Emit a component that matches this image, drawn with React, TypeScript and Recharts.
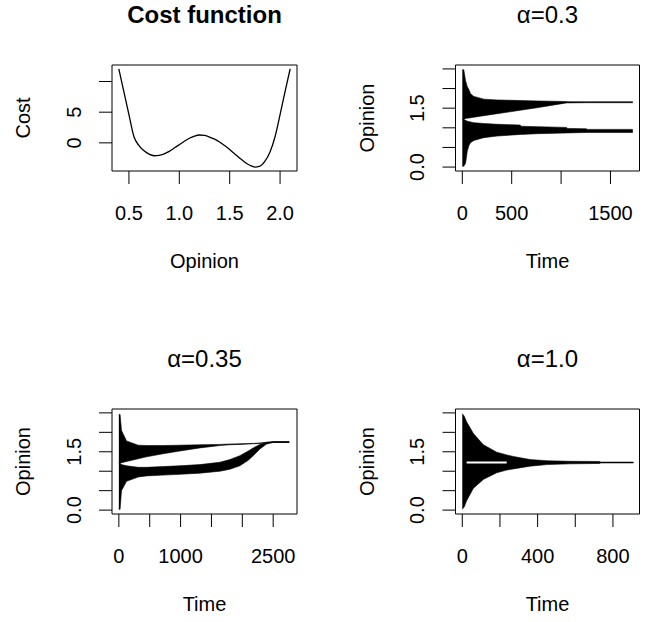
import React from 'react';
import { ComposedChart, Line, Area, XAxis, YAxis, ReferenceArea } from 'recharts';

const FONT = '"Liberation Sans", Arial, Helvetica, sans-serif';

// ---------- Panel 1: Cost function ----------
const costOpinion = [0.40, 0.45, 0.50, 0.55, 0.60, 0.65, 0.70, 0.75, 0.80, 0.85, 0.90, 0.95, 1.00, 1.05, 1.10, 1.15, 1.20, 1.25, 1.30, 1.35, 1.40, 1.45, 1.50, 1.55, 1.60, 1.65, 1.70, 1.75, 1.80, 1.85, 1.90, 1.95, 2.00, 2.05, 2.10];
const costValue = [12.05, 8.3, 4.6, 1.0, -0.45, -1.3, -1.85, -2.1, -2.05, -1.8, -1.4, -0.85, -0.3, 0.25, 0.75, 1.1, 1.28, 1.2, 0.95, 0.6, 0.15, -0.45, -1.1, -1.8, -2.5, -3.15, -3.65, -3.95, -3.8, -3.0, -1.5, 1.0, 4.6, 8.4, 12.05];
const costXTicks = [0.5, 1.0, 1.5, 2.0];
const costXLabels = ['0.5', '1.0', '1.5', '2.0'];
const costYTicks = [0, 5, 10];
const costYLabels = ['0', '5', ''];

// ---------- Shared opinion axis ----------
const opinionTicks = [0, 0.5, 1.0, 1.5, 2.0, 2.5];
const opinionLabels = ['0.0', '', '', '1.5', '', ''];

// ---------- Panel 2: alpha = 0.3 ----------
const a03Time = [0, 15, 33, 50, 67, 83, 117, 218, 352, 519, 587, 590, 754, 1056, 1060, 1258, 1262, 1726];
const a03UpperLow = [1.21, 1.21, 1.24, 1.245, 1.25, 1.255, 1.27, 1.31, 1.36, 1.42, 1.45, 1.45, 1.51, 1.635, 1.635, 1.64, 1.64, 1.64];
const a03UpperHigh = [2.48, 2.48, 2.2, 2.05, 1.97, 1.87, 1.8, 1.73, 1.71, 1.7, 1.695, 1.695, 1.685, 1.67, 1.665, 1.665, 1.665, 1.665];
const a03LowerLow = [0.02, 0.02, 0.1, 0.4, 0.55, 0.62, 0.68, 0.75, 0.79, 0.82, 0.83, 0.83, 0.85, 0.87, 0.87, 0.88, 0.88, 0.88];
const a03LowerHigh = [1.21, 1.21, 1.19, 1.17, 1.16, 1.15, 1.13, 1.11, 1.09, 1.075, 1.07, 1.04, 1.03, 1.01, 0.985, 0.975, 0.96, 0.96];
const a03XTicks = [0, 500, 1000, 1500];
const a03XLabels = ['0', '500', '', '1500'];

// ---------- Panel 3: alpha = 0.35 ----------
const a035Time = [0, 20, 43, 124, 313, 449, 718, 989, 1313, 1637, 1799, 1961, 2096, 2177, 2285, 2394, 2501, 2760];
const a035UpperLow = [1.2, 1.2, 1.22, 1.25, 1.32, 1.37, 1.45, 1.52, 1.6, 1.66, 1.68, 1.69, 1.7, 1.705, 1.715, 1.73, 1.74, 1.74];
const a035UpperHigh = [2.46, 2.46, 2.05, 1.78, 1.67, 1.66, 1.66, 1.67, 1.68, 1.69, 1.7, 1.705, 1.71, 1.715, 1.725, 1.745, 1.76, 1.76];
const a035LowerLow = [0.02, 0.02, 0.5, 0.74, 0.85, 0.88, 0.9, 0.92, 0.95, 1.0, 1.05, 1.14, 1.28, 1.4, 1.57, 1.7, 1.74, 1.74];
const a035LowerHigh = [1.2, 1.2, 1.17, 1.14, 1.1, 1.1, 1.12, 1.14, 1.17, 1.23, 1.3, 1.4, 1.52, 1.6, 1.69, 1.74, 1.76, 1.76];
const a035XTicks = [0, 500, 1000, 1500, 2000, 2500];
const a035XLabels = ['0', '', '1000', '', '', '2500'];

// ---------- Panel 4: alpha = 1.0 ----------
const a10Time = [0, 10, 23, 59, 112, 183, 236, 271, 360, 449, 573, 730, 735, 909];
const a10Low = [0.02, 0.08, 0.24, 0.56, 0.79, 0.96, 1.03, 1.06, 1.13, 1.17, 1.19, 1.2, 1.213, 1.213];
const a10High = [2.48, 2.42, 2.27, 1.97, 1.68, 1.49, 1.42, 1.38, 1.3, 1.27, 1.255, 1.25, 1.235, 1.235];
const a10GapTime = [23, 236];
const a10GapValue = [1.222, 1.222];
const a10XTicks = [0, 200, 400, 600, 800];
const a10XLabels = ['0', '', '400', '', '800'];

const W = 326;
const H = 311;
const YAW = 40;
const XAH = 40;

type Box = { l: number; r: number; t: number; b: number };

type Cfg = {
  left: number;
  top: number;
  box: Box;
  title: string;
  bold?: boolean;
  xLabel: string;
  yLabel: string;
  xKey: string;
  xDomain: [number, number];
  yDomain: [number, number];
  xTicks: number[];
  xLabels: string[];
  yTicks: number[];
  yLabels: string[];
  data: any[];
};

const labelFor = (ticks: number[], labels: string[], v: number) => {
  const i = ticks.findIndex((t) => Math.abs(t - v) < 1e-9);
  return i >= 0 ? labels[i] : '';
};

function renderPanel(cfg: Cfg, series: React.ReactNode[]) {
  const { box } = cfg;
  const margin = { top: box.t, left: box.l - YAW, right: W - box.r, bottom: H - box.b - XAH };
  const cx = (box.l + box.r) / 2;
  const cy = (box.t + box.b) / 2;
  const xTick = (props: any) => {
    const label = labelFor(cfg.xTicks, cfg.xLabels, props.payload.value);
    if (!label) return <g />;
    return (
      <text x={props.x} y={box.b + 48.7} textAnchor="middle" fontSize={20} fontFamily={FONT} fill="#000">
        {label}
      </text>
    );
  };
  const yTick = (props: any) => {
    const label = labelFor(cfg.yTicks, cfg.yLabels, props.payload.value);
    if (!label) return <g />;
    const px = box.l - 31.3;
    return (
      <text x={px} y={props.y} transform={`rotate(-90, ${px}, ${props.y})`} textAnchor="middle" fontSize={20} fontFamily={FONT} fill="#000">
        {label}
      </text>
    );
  };
  const yTitleX = box.l - 82;
  return (
    <div style={{ position: 'absolute', left: cfg.left, top: cfg.top, width: W, height: H }}>
      <ComposedChart width={W} height={H} data={cfg.data} margin={margin}>
        <XAxis
          dataKey={cfg.xKey}
          type="number"
          domain={cfg.xDomain}
          ticks={cfg.xTicks}
          interval={0}
          allowDataOverflow
          height={XAH}
          tickSize={13}
          axisLine={false}
          tickLine={{ stroke: '#000', strokeWidth: 1 }}
          tick={xTick}
        />
        <YAxis
          type="number"
          domain={cfg.yDomain}
          ticks={cfg.yTicks}
          interval={0}
          allowDataOverflow
          width={YAW}
          tickSize={13}
          axisLine={false}
          tickLine={{ stroke: '#000', strokeWidth: 1 }}
          tick={yTick}
        />
        {series}
        <ReferenceArea
          x1={cfg.xDomain[0]}
          x2={cfg.xDomain[1]}
          y1={cfg.yDomain[0]}
          y2={cfg.yDomain[1]}
          fill="none"
          fillOpacity={0}
          stroke="#000"
          strokeWidth={1}
          ifOverflow="visible"
        />
        <text x={cx} y={box.t - 42.5} textAnchor="middle" fontSize={24} fontWeight={cfg.bold ? 'bold' : 'normal'} fontFamily={FONT} fill="#000">
          {cfg.title}
        </text>
        <text x={cx} y={box.b + 96.6} textAnchor="middle" fontSize={20} fontFamily={FONT} fill="#000">
          {cfg.xLabel}
        </text>
        <text x={yTitleX} y={cy} transform={`rotate(-90, ${yTitleX}, ${cy})`} textAnchor="middle" fontSize={20} fontFamily={FONT} fill="#000">
          {cfg.yLabel}
        </text>
      </ComposedChart>
    </div>
  );
}

const costData = costOpinion.map((x, i) => ({ x, cost: costValue[i] }));
const a03Data = a03Time.map((t, i) => ({ t, uLo: a03UpperLow[i], uHi: a03UpperHigh[i], lLo: a03LowerLow[i], lHi: a03LowerHigh[i] }));
const a035Data = a035Time.map((t, i) => ({ t, uLo: a035UpperLow[i], uHi: a035UpperHigh[i], lLo: a035LowerLow[i], lHi: a035LowerHigh[i] }));
const a10Data = a10Time.map((t, i) => {
  const gi = a10GapTime.indexOf(t);
  return { t, lo: a10Low[i], hi: a10High[i], gap: gi >= 0 ? a10GapValue[gi] : null };
});

const bandProps = {
  type: 'linear' as const,
  stroke: '#000',
  strokeWidth: 0.6,
  fill: '#000',
  fillOpacity: 1,
  isAnimationActive: false,
  dot: false,
  activeDot: false,
};

export default function App() {
  const opinionDomain: [number, number] = [-0.1, 2.6];
  return (
    <div style={{ position: 'fixed', left: 0, top: 0, width: 652, height: 622, background: '#fff', overflow: 'hidden' }}>
      {renderPanel(
        {
          left: 0, top: 0,
          box: { l: 112, r: 297, t: 65, b: 171 },
          title: 'Cost function', bold: true,
          xLabel: 'Opinion', yLabel: 'Cost', xKey: 'x',
          xDomain: [0.332, 2.168], yDomain: [-4.59, 12.69],
          xTicks: costXTicks, xLabels: costXLabels,
          yTicks: costYTicks, yLabels: costYLabels,
          data: costData,
        },
        [
          <Line key="cost" dataKey="cost" type="monotone" stroke="#000" strokeWidth={1.3} dot={false} activeDot={false} isAnimationActive={false} />,
        ]
      )}
      {renderPanel(
        {
          left: 326, top: 0,
          box: { l: 129.5, r: 313.5, t: 65, b: 171 },
          title: 'α=0.3',
          xLabel: 'Time', yLabel: 'Opinion', xKey: 't',
          xDomain: [-69, 1794], yDomain: opinionDomain,
          xTicks: a03XTicks, xLabels: a03XLabels,
          yTicks: opinionTicks, yLabels: opinionLabels,
          data: a03Data,
        },
        [
          <Area key="u" dataKey={(d: any) => [d.uLo, d.uHi]} {...bandProps} />,
          <Area key="l" dataKey={(d: any) => [d.lLo, d.lHi]} {...bandProps} />,
        ]
      )}
      {renderPanel(
        {
          left: 0, top: 311,
          box: { l: 112, r: 297, t: 98, b: 203 },
          title: 'α=0.35',
          xLabel: 'Time', yLabel: 'Opinion', xKey: 't',
          xDomain: [-111, 2886], yDomain: opinionDomain,
          xTicks: a035XTicks, xLabels: a035XLabels,
          yTicks: opinionTicks, yLabels: opinionLabels,
          data: a035Data,
        },
        [
          <Area key="u" dataKey={(d: any) => [d.uLo, d.uHi]} {...bandProps} />,
          <Area key="l" dataKey={(d: any) => [d.lLo, d.lHi]} {...bandProps} />,
        ]
      )}
      {renderPanel(
        {
          left: 326, top: 311,
          box: { l: 129.5, r: 313.5, t: 98, b: 203 },
          title: 'α=1.0',
          xLabel: 'Time', yLabel: 'Opinion', xKey: 't',
          xDomain: [-36, 941], yDomain: opinionDomain,
          xTicks: a10XTicks, xLabels: a10XLabels,
          yTicks: opinionTicks, yLabels: opinionLabels,
          data: a10Data,
        },
        [
          <Area key="b" dataKey={(d: any) => [d.lo, d.hi]} {...bandProps} />,
          <Line key="g" dataKey="gap" type="linear" stroke="#fff" strokeWidth={2} dot={false} activeDot={false} connectNulls isAnimationActive={false} />,
        ]
      )}
    </div>
  );
}
